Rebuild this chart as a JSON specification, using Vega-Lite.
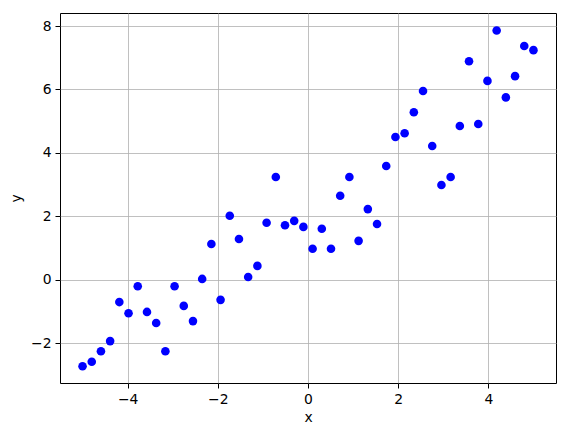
{
  "$schema": "https://vega.github.io/schema/vega-lite/v6.json",
  "width": 496,
  "height": 370,
  "autosize": {"type": "none"},
  "padding": {"left": 60, "top": 13, "right": 13, "bottom": 53},
  "background": "white",
  "config": {
    "view": {"stroke": "black", "strokeWidth": 1},
    "axis": {
      "labelFont": "DejaVu Sans",
      "titleFont": "DejaVu Sans",
      "labelFontSize": 13.9,
      "titleFontSize": 13.9,
      "titleFontWeight": "normal",
      "labelColor": "black",
      "titleColor": "black",
      "tickColor": "black",
      "tickSize": 5,
      "tickWidth": 1,
      "labelPadding": 4,
      "titlePadding": 5,
      "domain": false,
      "grid": true,
      "gridColor": "#b0b0b0",
      "gridWidth": 0.8
    },
    "axisY": {"titlePadding": 7}
  },
  "data": {
    "values": [
      {"x": -5.0, "y": -2.72},
      {"x": -4.796, "y": -2.58},
      {"x": -4.592, "y": -2.25},
      {"x": -4.388, "y": -1.93},
      {"x": -4.184, "y": -0.70},
      {"x": -3.980, "y": -1.05},
      {"x": -3.776, "y": -0.20},
      {"x": -3.571, "y": -1.01},
      {"x": -3.367, "y": -1.36},
      {"x": -3.163, "y": -2.25},
      {"x": -2.959, "y": -0.20},
      {"x": -2.755, "y": -0.82},
      {"x": -2.551, "y": -1.30},
      {"x": -2.347, "y": 0.03},
      {"x": -2.143, "y": 1.13},
      {"x": -1.939, "y": -0.63},
      {"x": -1.735, "y": 2.02},
      {"x": -1.531, "y": 1.29},
      {"x": -1.327, "y": 0.09},
      {"x": -1.122, "y": 0.44},
      {"x": -0.918, "y": 1.80},
      {"x": -0.714, "y": 3.24},
      {"x": -0.510, "y": 1.72},
      {"x": -0.306, "y": 1.86},
      {"x": -0.102, "y": 1.67},
      {"x": 0.102, "y": 0.98},
      {"x": 0.306, "y": 1.61},
      {"x": 0.510, "y": 0.98},
      {"x": 0.714, "y": 2.65},
      {"x": 0.918, "y": 3.24},
      {"x": 1.122, "y": 1.23},
      {"x": 1.327, "y": 2.23},
      {"x": 1.531, "y": 1.76},
      {"x": 1.735, "y": 3.59},
      {"x": 1.939, "y": 4.50},
      {"x": 2.143, "y": 4.62},
      {"x": 2.347, "y": 5.28},
      {"x": 2.551, "y": 5.95},
      {"x": 2.755, "y": 4.22},
      {"x": 2.959, "y": 2.99},
      {"x": 3.163, "y": 3.24},
      {"x": 3.367, "y": 4.85},
      {"x": 3.571, "y": 6.89},
      {"x": 3.776, "y": 4.91},
      {"x": 3.980, "y": 6.27},
      {"x": 4.184, "y": 7.86},
      {"x": 4.388, "y": 5.75},
      {"x": 4.592, "y": 6.42},
      {"x": 4.796, "y": 7.37},
      {"x": 5.0, "y": 7.24}
    ]
  },
  "mark": {"type": "point", "filled": true, "color": "#0000ff", "opacity": 1, "size": 74},
  "encoding": {
    "x": {
      "field": "x",
      "type": "quantitative",
      "scale": {"domain": [-5.5, 5.5], "nice": false, "zero": false},
      "axis": {"values": [-4, -2, 0, 2, 4], "title": "x"}
    },
    "y": {
      "field": "y",
      "type": "quantitative",
      "scale": {"domain": [-3.25, 8.41], "nice": false, "zero": false},
      "axis": {"values": [-2, 0, 2, 4, 6, 8], "title": "y"}
    }
  }
}
